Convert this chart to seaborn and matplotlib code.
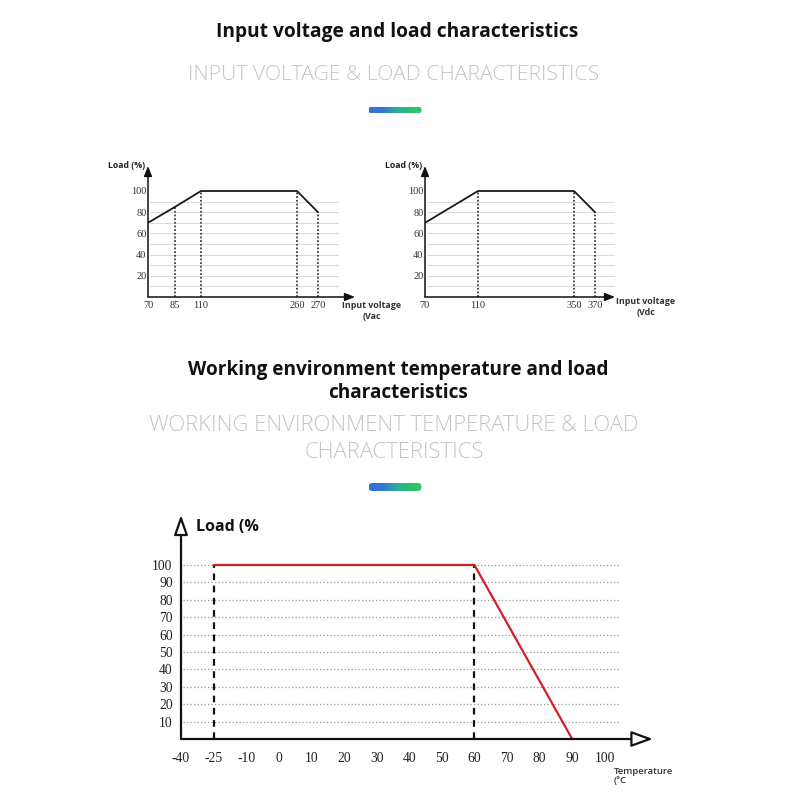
import numpy as np
import pandas as pd
import matplotlib
matplotlib.use("Agg")
import matplotlib.pyplot as plt
import seaborn as sns
from matplotlib.colors import LinearSegmentedColormap
from matplotlib.patches import FancyBboxPatch

# ---------------- data ----------------
vac_voltage = [70, 85, 110, 260, 270]
vac_load = [70, 85, 100, 100, 80]
vac_ticks = [70, 85, 110, 260, 270]

vdc_voltage = [70, 110, 350, 370]
vdc_load = [70, 100, 100, 80]
vdc_ticks = [70, 110, 350, 370]

load_ticks_small = [20, 40, 60, 80, 100]
grid_small = [10, 20, 30, 40, 50, 60, 70, 80, 90]

temp_points = [-25, 60, 90]
temp_load = [100, 100, 0]
temp_ticks = [-40, -25, -10, 0, 10, 20, 30, 40, 50, 60, 70, 80, 90, 100]
load_ticks_big = [10, 20, 30, 40, 50, 60, 70, 80, 90, 100]

title1 = "Input voltage and load characteristics"
sub1 = "INPUT VOLTAGE & LOAD CHARACTERISTICS"
title2 = "Working environment temperature and load\ncharacteristics"
sub2 = "WORKING ENVIRONMENT TEMPERATURE & LOAD\nCHARACTERISTICS"

# ---------------- style ----------------
sns.set_theme(style="white")
plt.rcParams["font.family"] = ["Open Sans", "DejaVu Sans"]
SERIF = "Liberation Serif"

W = H = 800
fig = plt.figure(figsize=(8, 8), dpi=100)
fig.patch.set_facecolor("white")


def fx(px):
    return px / W


def fy(py):
    return 1 - py / H


def add_axes_px(left, top, right, bottom):
    return fig.add_axes([fx(left), fy(bottom), (right - left) / W, (bottom - top) / H])


def piecewise(ticks, pos):
    t = np.asarray(ticks, float)
    p = np.asarray(pos, float)

    def _map(x, a, b):
        x = np.asarray(x, float)
        y = np.interp(x, a, b)
        s0 = (b[1] - b[0]) / (a[1] - a[0])
        s1 = (b[-1] - b[-2]) / (a[-1] - a[-2])
        y = np.where(x < a[0], b[0] + (x - a[0]) * s0, y)
        y = np.where(x > a[-1], b[-1] + (x - a[-1]) * s1, y)
        return y

    return (lambda x: _map(x, t, p)), (lambda y: _map(y, p, t))


def pill(cx, cy, w, h):
    ax = add_axes_px(cx - w / 2, cy - h / 2, cx + w / 2, cy + h / 2)
    ax.set_axis_off()
    cmap = LinearSegmentedColormap.from_list(
        "g", ["#3570d8", "#3477d6", "#2fa8a0", "#2bbf70", "#2ec86c"])
    grad = np.linspace(0, 1, 256)[None, :]
    im = ax.imshow(grad, cmap=cmap, aspect="auto", extent=[0, 1, 0, 1])
    patch = FancyBboxPatch((0, 0), 1, 1,
                           boxstyle="round,pad=0,rounding_size=%f" % (h / (2.0 * w)),
                           transform=ax.transAxes, facecolor="none", edgecolor="none",
                           mutation_aspect=w / h)
    ax.add_patch(patch)
    im.set_clip_path(patch)
    ax.set_xlim(0, 1)
    ax.set_ylim(0, 1)


# ---------------- headings ----------------
fig.text(fx(397), fy(32), title1, ha="center", va="center", fontsize=13.8,
         fontweight="bold", color="#111111")
fig.text(fx(394), fy(75), sub1, ha="center", va="center", fontsize=15.3,
         fontweight="light", color="#c4c4c4")
pill(395, 110, 53, 7)

fig.text(fx(398), fy(381.5), title2, ha="center", va="center", fontsize=13.7,
         fontweight="bold", color="#111111", linespacing=1.2)
fig.text(fx(394), fy(439), sub2, ha="center", va="center", fontsize=15.8,
         fontweight="light", color="#c4c4c4", linespacing=1.33)
pill(395, 487, 53, 8)


# ---------------- small charts ----------------
def small_chart(left, right, top, bottom, y100, ticks, tick_px, volt, load,
                grid_right, xlabel, label_x, label_y):
    ax = add_axes_px(left, top, right, bottom)
    fwd, inv = piecewise(ticks, tick_px)
    ax.set_xscale("function", functions=(fwd, inv))
    ax.set_xlim(float(inv(left)), float(inv(right)))
    per = (bottom - y100) / 100.0
    ax.set_ylim(0, (bottom - top) / per)
    ax.set_facecolor("none")
    for s in ax.spines.values():
        s.set_visible(False)
    frac_r = (grid_right - left) / (right - left)
    for g in grid_small:
        ax.axhline(g, xmin=0.01, xmax=frac_r, color="#dcdcdc", lw=0.8, zorder=1)
    for v, l in zip(volt[1:], load[1:]):
        ax.plot([v, v], [0, l], color="#222222", lw=1.1, ls=(0, (1.2, 1.2)), zorder=2)
    df = pd.DataFrame({"v": volt, "l": load})
    sns.lineplot(data=df, x="v", y="l", ax=ax, sort=False, estimator=None,
                 color="#1a1a1a", lw=1.3, zorder=3)
    ax.set_xlabel("")
    ax.set_ylabel("")
    ax.set_xticks(ticks)
    ax.set_xticklabels([str(t) for t in ticks], family=SERIF, fontsize=7.5, color="#333333")
    ax.set_yticks(load_ticks_small)
    ax.set_yticklabels([str(t) for t in load_ticks_small], family=SERIF, fontsize=7.5,
                       color="#333333")
    ax.tick_params(axis="both", length=0)
    ax.tick_params(axis="x", pad=3)
    ax.tick_params(axis="y", pad=1)
    ax.minorticks_off()
    ax.annotate("", xy=(0, 1), xytext=(0, 0), xycoords="axes fraction",
                arrowprops=dict(arrowstyle="-|>,head_length=0.5,head_width=0.2",
                                color="#111111", lw=1.1, shrinkA=0, shrinkB=0))
    ax.annotate("", xy=(1, 0), xytext=(0, 0), xycoords="axes fraction",
                arrowprops=dict(arrowstyle="-|>,head_length=0.5,head_width=0.2",
                                color="#111111", lw=1.1, shrinkA=0, shrinkB=0))
    fig.text(fx(left - 3), fy(top + 0), "Load (%)", ha="right", va="center",
             fontsize=6.3, fontweight="bold", color="#222222")
    fig.text(fx(label_x), fy(label_y), xlabel, ha="center", va="center",
             fontsize=6.4, fontweight="bold", color="#333333", linespacing=1.2)
    return ax


small_chart(148, 355, 166, 297, 191, vac_ticks, [148, 175, 201, 297, 318],
            vac_voltage, vac_load, 338, "Input voltage\n(Vac", 372, 311)
small_chart(425, 615, 166, 297, 191, vdc_ticks, [425, 478, 574, 595],
            vdc_voltage, vdc_load, 615, "Input voltage\n(Vdc", 646, 307)

# ---------------- temperature chart ----------------
L, R, T, B = 181, 653, 515, 739
y100 = 565
ax = add_axes_px(L, T, R, B)
fwd, inv = piecewise(temp_ticks, np.arange(len(temp_ticks)) * 32.6 + L)
ax.set_xscale("function", functions=(fwd, inv))
ax.set_xlim(float(inv(L)), float(inv(R)))
per = (B - y100) / 100.0
ax.set_ylim(0, (B - T) / per)
ax.set_facecolor("none")
for s in ax.spines.values():
    s.set_visible(False)
frac_r = (620 - L) / (R - L)
for g in load_ticks_big:
    ax.axhline(g, xmin=0.005, xmax=frac_r, color="#9a9a9a", lw=0.9,
               ls=(0, (1, 1.8)), zorder=1)
for v in temp_points[:2]:
    ax.plot([v, v], [0, 100], color="#111111", lw=1.6, ls=(0, (3, 2.5)), zorder=2)
df3 = pd.DataFrame({"t": temp_points, "l": temp_load})
sns.lineplot(data=df3, x="t", y="l", ax=ax, sort=False, estimator=None,
             color="#d21f26", lw=1.6, zorder=3)
ax.set_xlabel("")
ax.set_ylabel("")
ax.set_xticks(temp_ticks)
ax.set_xticklabels([str(t) for t in temp_ticks], family=SERIF, fontsize=9.8, color="#222222")
ax.set_yticks(load_ticks_big)
ax.set_yticklabels([str(t) for t in load_ticks_big], family=SERIF, fontsize=9.8,
                   color="#222222")
ax.tick_params(axis="both", length=0)
ax.tick_params(axis="x", pad=9)
ax.tick_params(axis="y", pad=6)
ax.minorticks_off()
ax.annotate("", xy=(0, 1), xytext=(0, 0), xycoords="axes fraction",
            arrowprops=dict(arrowstyle="-|>,head_length=1.0,head_width=0.35",
                            fc="white", ec="#111111", lw=1.6, shrinkA=0, shrinkB=0))
ax.annotate("", xy=(1, 0), xytext=(0, 0), xycoords="axes fraction",
            arrowprops=dict(arrowstyle="-|>,head_length=1.1,head_width=0.4",
                            fc="white", ec="#111111", lw=1.6, shrinkA=0, shrinkB=0))
fig.text(fx(196), fy(527), "Load (%", ha="left", va="center", fontsize=11.5,
         fontweight="bold", color="#111111")
fig.text(fx(614), fy(776), "Temperature\n(°C", ha="left", va="center", fontsize=6.8,
         fontweight="semibold", color="#333333", linespacing=1.1)

fig.savefig("out.png", dpi=100, facecolor="white")
